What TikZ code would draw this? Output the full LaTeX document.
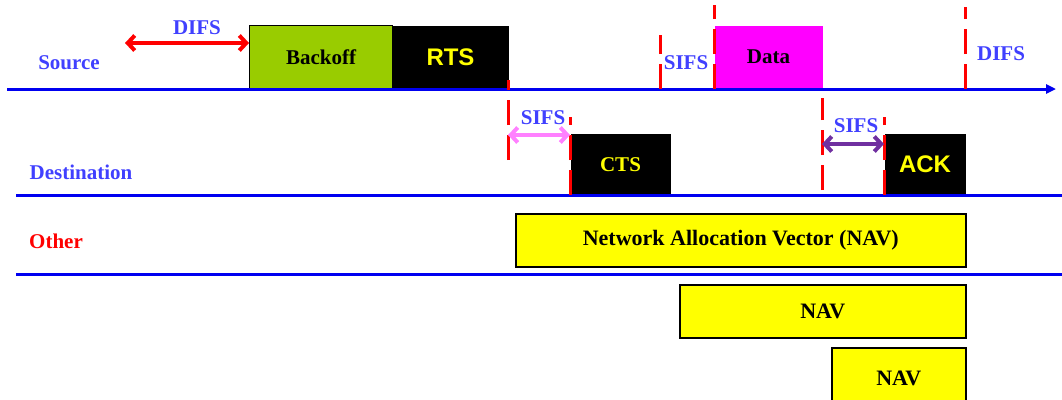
\documentclass[tikz,border=0pt]{standalone}
\usepackage{fontspec}
\setmainfont{Liberation Serif}
\newfontfamily\arialfont{Liberation Sans}
\usetikzlibrary{positioning,arrows.meta}

\definecolor{axisblue}{RGB}{0,0,240}
\definecolor{labelblue}{RGB}{64,64,255}
\definecolor{backoffgreen}{RGB}{153,204,0}
\definecolor{datamagenta}{RGB}{255,0,255}
\definecolor{navyellow}{RGB}{255,255,0}
\definecolor{sifspink}{RGB}{255,128,255}
\definecolor{sifspurple}{RGB}{112,48,160}

\tikzset{
  frame/.style={draw=black, line width=1pt, inner sep=0pt, anchor=north west,
    font=\fontsize{21}{24}\selectfont\bfseries},
  ctrl/.style={frame, draw=none, fill=black, text=navyellow},
  navbox/.style={frame, fill=navyellow, line width=1.5pt, font=\fontsize{22}{26}\selectfont\bfseries},
  lbl/.style={labelblue, inner sep=0pt, font=\fontsize{21}{24}\selectfont\bfseries},
  axis/.style={axisblue, line width=3pt},
  tick/.style={red, line width=3pt, dash pattern=on 25pt off 10pt},
  gap/.style={line width=4pt, {Straight Barb[length=7pt,width=15pt]}-{Straight Barb[length=7pt,width=15pt]}},
}

\begin{document}
\begin{tikzpicture}[x=1pt, y=-1pt]
\clip (0,0) rectangle (1062,399);

% frames on the three stations
\node[frame, fill=backoffgreen, minimum width=143pt, minimum height=63pt] (backoff) at (249,25) {Backoff};
\node[ctrl, minimum width=116pt, minimum height=63pt, font=\arialfont\fontsize{24}{28}\selectfont\bfseries] (rts) at (392,25) {RTS};
\node[frame, draw=none, fill=datamagenta, minimum width=108pt, minimum height=63pt] (data) at (714,25) {Data};
\node[ctrl, minimum width=100pt, minimum height=62pt] (cts) at (570,133) {CTS};
\node[ctrl, minimum width=81pt, minimum height=62pt, font=\arialfont\fontsize{24}{28}\selectfont\bfseries] (ack) at (884,133) {ACK};
\node[navbox, minimum width=450pt, minimum height=53pt] (nav) at (515,213) {Network Allocation Vector (NAV)};
\node[navbox, minimum width=286pt, minimum height=53pt] (nav2) at (679,284) {NAV};
\node[navbox, minimum width=134pt, minimum height=62pt] (nav3) at (831,347) {NAV};

% time lines
\draw[axis, -{Triangle[length=10pt,width=9pt]}] (7,89) -- (1056,89);
\draw[axis] (16,195) -- (1062,195);
\draw[axis] (16,274) -- (1062,274);

% station names
\node[lbl] (src) at (69,63) {Source};
\node[lbl] (dst) at (81,172) {Destination};
\node[lbl, text=red] (oth) at (56,241) {Other};

% interframe space marks
\draw[tick] (508,160) -- (508,80);
\draw[tick] (570,195) -- (570,117);
\draw[tick] (660,89) -- (660,35);
\draw[tick] (714,89) -- (714,5);
\draw[tick] (822,190) -- (822,98);
\draw[tick] (884,195) -- (884,117);
\draw[tick] (965,89) -- (965,7);

% gaps
\coordinate (difsL) at (125,43);
\draw[gap, red] (difsL) -- (backoff.west |- difsL);
\node[lbl] (difs1) at (197,28) {DIFS};
\coordinate (sifsA) at (508,135);
\draw[gap, sifspink] (sifsA) -- (cts.west |- sifsA);
\node[lbl] (sifs1) at (543,118) {SIFS};
\node[lbl] (sifs2) at (686,63) {SIFS};
\coordinate (sifsB) at (822,144);
\draw[gap, sifspurple] (sifsB) -- (ack.west |- sifsB);
\node[lbl] (sifs3) at (856,126) {SIFS};
\node[lbl] (difs2) at (1001,54) {DIFS};
\end{tikzpicture}
\end{document}
